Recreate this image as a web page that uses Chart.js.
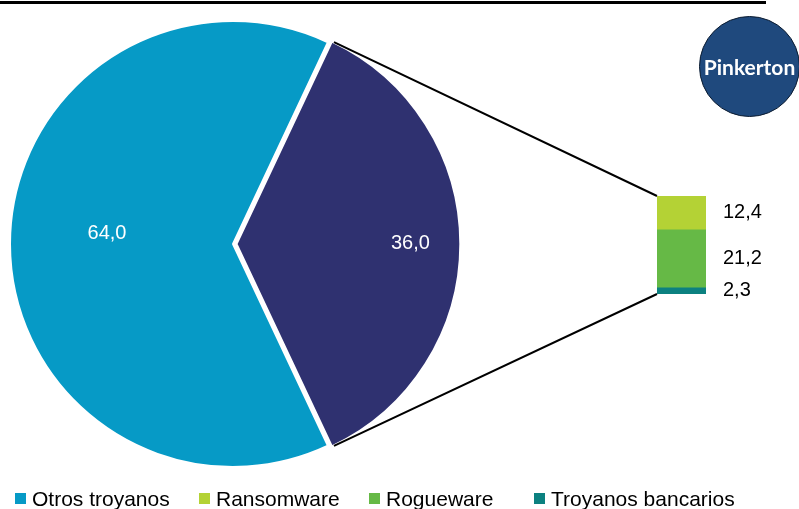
<!DOCTYPE html>
<html>
<head>
<meta charset="utf-8">
<script src="https://cdn.jsdelivr.net/npm/chart.js@4.4.1/dist/chart.umd.min.js"></script>
<style>
  html, body { margin: 0; padding: 0; background: #fff; }
  #wrap { position: relative; width: 799px; height: 509px; overflow: hidden; font-family: "Liberation Sans", Arial, sans-serif; }
  #topline { position: absolute; left: 0; top: 1px; width: 766px; height: 3px; background: #000; }
  #pie-box { position: absolute; left: 0; top: 0; width: 466px; height: 488px; }
  #bar-box { position: absolute; left: 640px; top: 186px; width: 150px; height: 118px; }
  #links { position: absolute; left: 0; top: 0; pointer-events: none; }
  #badge { position: absolute; left: 699px; top: 16px; width: 99px; height: 99px; border-radius: 50%;
           background: #1f497d; border: 1px solid #0b1b30; color: #fff; font-family: Lato, "Open Sans", sans-serif;
           font-weight: bold; font-size: 21px; display: flex; align-items: center; justify-content: center; }
  .legend-item { position: absolute; top: 488px; height: 21px; line-height: 21px; font-size: 21px; color: #000; white-space: nowrap; padding-left: 17px; }
  .legend-item i { position: absolute; left: 0; top: 5px; width: 11px; height: 11px; }
</style>
</head>
<body>
<div id="wrap">
  <div id="topline"></div>
  <div id="pie-box"><canvas id="pie-chart"></canvas></div>
  <div id="bar-box"><canvas id="bar-chart"></canvas></div>
  <canvas id="links" width="799" height="509"></canvas>
  <div id="badge">Pinkerton</div>
  <div id="legend"></div>
</div>
<script>
// pie: the rest vs. the part broken out into the bar
const pieLabels = ['Otros troyanos', 'Resto'];
const pieValues = [64.0, 36.0];
const pieColors = ['#069ac6', '#2f3170'];

// bar, from bottom to top
const barLabels = ['Troyanos bancarios', 'Rogueware', 'Ransomware'];
const barValues = [2.3, 21.2, 12.4];
const barColors = ['#0c8180', '#66b946', '#b4d235'];

// legend order as in the picture
const legendLabels = ['Otros troyanos', 'Ransomware', 'Rogueware', 'Troyanos bancarios'];
const legendColors = ['#069ac6', '#b4d235', '#66b946', '#0c8180'];
const legendLeft = [15, 199, 369, 534];

const fmt = v => v.toFixed(1).replace('.', ',');
const pieTotal = pieValues.reduce((a, b) => a + b, 0);
const barTotal = barValues.reduce((a, b) => a + b, 0);

const pieLabelPlugin = {
    id: 'pieLabels',
    afterDatasetsDraw(chart) {
        const ctx = chart.ctx;
        const place = [{ r: 0.565, dy: -11 }, { r: 0.78, dy: -1 }];
        ctx.save();
        ctx.font = '20px "Liberation Sans", Arial, sans-serif';
        ctx.fillStyle = '#fff';
        ctx.textAlign = 'center';
        ctx.textBaseline = 'middle';
        chart.getDatasetMeta(0).data.forEach((arc, i) => {
            const mid = (arc.startAngle + arc.endAngle) / 2;
            const shift = (arc.options.offset || 0) / 4;
            const cx = arc.x + Math.cos(mid) * shift;
            const cy = arc.y + Math.sin(mid) * shift;
            const r = arc.outerRadius * place[i].r;
            ctx.fillText(fmt(pieValues[i]), cx + Math.cos(mid) * r, cy + Math.sin(mid) * r + place[i].dy);
        });
        ctx.restore();
    }
};

const barLabelPlugin = {
    id: 'barLabels',
    afterDraw(chart) {
        const ctx = chart.ctx;
        ctx.save();
        ctx.font = '20px "Liberation Sans", Arial, sans-serif';
        ctx.fillStyle = '#000';
        ctx.textAlign = 'left';
        ctx.textBaseline = 'middle';
        chart.data.datasets.forEach((ds, i) => {
            const bar = chart.getDatasetMeta(i).data[0];
            ctx.fillText(fmt(ds.data[0]), bar.x + bar.width / 2 + 17, (bar.y + bar.base) / 2);
        });
        ctx.restore();
    }
};

const pieChart = new Chart(document.getElementById('pie-chart').getContext('2d'), {
    type: 'pie',
    data: {
        labels: pieLabels,
        datasets: [{
            data: pieValues,
            backgroundColor: pieColors,
            borderColor: '#fff',
            borderWidth: 2,
            offset: [0, 14],
            hoverOffset: 0
        }]
    },
    options: {
        responsive: true,
        maintainAspectRatio: false,
        animation: false,
        radius: 223,
        rotation: 90 + 180 * pieValues[1] / pieTotal,
        layout: { padding: 0 },
        plugins: {
            legend: { display: false },
            tooltip: { enabled: false }
        }
    },
    plugins: [pieLabelPlugin]
});

const barChart = new Chart(document.getElementById('bar-chart').getContext('2d'), {
    type: 'bar',
    data: {
        labels: [''],
        datasets: barLabels.map((name, i) => ({
            label: name,
            data: [barValues[i]],
            backgroundColor: barColors[i],
            borderWidth: 0,
            barPercentage: 1,
            categoryPercentage: 1
        }))
    },
    options: {
        responsive: true,
        maintainAspectRatio: false,
        animation: false,
        layout: { padding: { left: 17, right: 84, top: 10, bottom: 10 } },
        plugins: {
            legend: { display: false },
            tooltip: { enabled: false }
        },
        scales: {
            x: { stacked: true, display: false },
            y: { stacked: true, display: false, min: 0, max: barTotal }
        }
    },
    plugins: [barLabelPlugin]
});

// connector lines from the broken-out slice to the bar
function drawLinks() {
    const ctx = document.getElementById('links').getContext('2d');
    const arc = pieChart.getDatasetMeta(0).data[1];
    const off = arc.options.offset || 0;
    const mid = (arc.startAngle + arc.endAngle) / 2;
    const alpha = arc.endAngle - arc.startAngle;
    const R = arc.outerRadius + off * (1 - Math.sin(Math.min(Math.PI, alpha)));
    const beta = Math.max(0.001, alpha * R - off / Math.PI) / R;
    const trim = (alpha - beta) / 2;
    const cx = arc.x + Math.cos(mid) * off / 4;
    const cy = arc.y + Math.sin(mid) * off / 4;
    const a1 = arc.startAngle + trim, a2 = arc.endAngle - trim;

    const box = document.getElementById('bar-box');
    const bx = box.offsetLeft, by = box.offsetTop;
    const top = barChart.getDatasetMeta(barValues.length - 1).data[0];
    const bottom = barChart.getDatasetMeta(0).data[0];
    const left = bx + top.x - top.width / 2;

    ctx.strokeStyle = '#000';
    ctx.lineWidth = 2;
    ctx.beginPath();
    ctx.moveTo(cx + Math.cos(a1) * (R - 2), cy + Math.sin(a1) * (R - 2));
    ctx.lineTo(left, by + top.y);
    ctx.moveTo(cx + Math.cos(a2) * (R - 2), cy + Math.sin(a2) * (R - 2));
    ctx.lineTo(left, by + bottom.base);
    ctx.stroke();
}
drawLinks();

const legend = document.getElementById('legend');
legendLabels.forEach((name, i) => {
    const item = document.createElement('div');
    item.className = 'legend-item';
    item.style.left = legendLeft[i] + 'px';
    item.innerHTML = '<i style="background:' + legendColors[i] + '"></i>' + name;
    legend.appendChild(item);
});
</script>
</body>
</html>
